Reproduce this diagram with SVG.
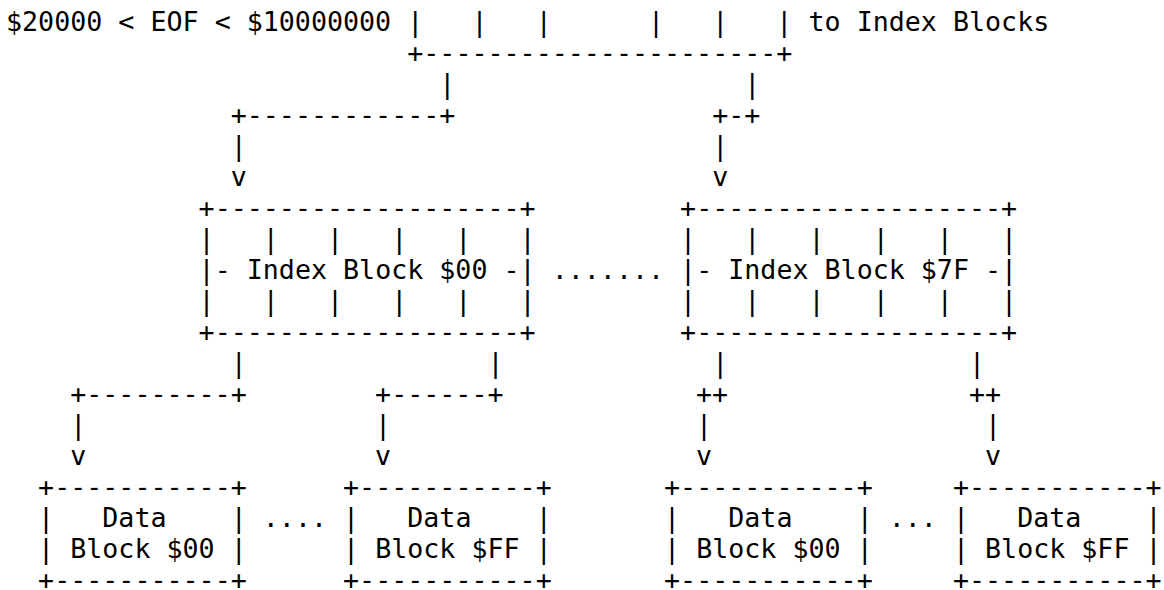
<svg xmlns="http://www.w3.org/2000/svg" width="1164" height="590" viewBox="0 0 1164 590">
<style>
text { font-family: "DejaVu Sans Mono", "Liberation Mono", monospace; font-size: 26.67px; fill: #000; white-space: pre; }
</style>
<rect width="1164" height="590" fill="#fff"/>
<g id="eof-label">
<text x="6" y="31">$20000 &lt; EOF &lt; $10000000</text>
<text x="808.5" y="31">to Index Blocks</text>
</g>
<g id="connectors">
<text x="407.25" y="31">|   |   |      |   |   |</text>
<text x="407.25" y="62">+----------------------+</text>
<text x="439.35" y="93">|                  |</text>
<text x="230.7" y="124">+------------+                +-+</text>
<text x="230.7" y="155">|                             |</text>
<text x="230.7" y="186">v                             v</text>
<text x="230.7" y="372">|               |             |               |</text>
<text x="70.2" y="403">+---------+        +------+            ++               ++</text>
<text x="70.2" y="434">|                  |                   |                 |</text>
<text x="70.2" y="465">v                  v                   v                 v</text>
</g>
<g id="index-block-00">
<text x="198.6" y="217">+-------------------+</text>
<text x="198.6" y="248">|   |   |   |   |   |</text>
<text x="198.6" y="279">|- Index Block $00 -|</text>
<text x="198.6" y="310">|   |   |   |   |   |</text>
<text x="198.6" y="341">+-------------------+</text>
</g>
<g id="index-ellipsis">
<text x="551.7" y="279">.......</text>
</g>
<g id="index-block-7f">
<text x="680.1" y="217">+-------------------+</text>
<text x="680.1" y="248">|   |   |   |   |   |</text>
<text x="680.1" y="279">|- Index Block $7F -|</text>
<text x="680.1" y="310">|   |   |   |   |   |</text>
<text x="680.1" y="341">+-------------------+</text>
</g>
<g id="data-block-00-00">
<text x="38.1" y="496">+-----------+</text>
<text x="38.1" y="527">|   Data    |</text>
<text x="38.1" y="558">| Block $00 |</text>
<text x="38.1" y="589">+-----------+</text>
</g>
<g id="data-ellipsis-1">
<text x="262.8" y="527">....</text>
</g>
<g id="data-block-00-ff">
<text x="343.05" y="496">+-----------+</text>
<text x="343.05" y="527">|   Data    |</text>
<text x="343.05" y="558">| Block $FF |</text>
<text x="343.05" y="589">+-----------+</text>
</g>
<g id="data-block-7f-00">
<text x="664.05" y="496">+-----------+</text>
<text x="664.05" y="527">|   Data    |</text>
<text x="664.05" y="558">| Block $00 |</text>
<text x="664.05" y="589">+-----------+</text>
</g>
<g id="data-ellipsis-2">
<text x="888.75" y="527">...</text>
</g>
<g id="data-block-7f-ff">
<text x="952.95" y="496">+-----------+</text>
<text x="952.95" y="527">|   Data    |</text>
<text x="952.95" y="558">| Block $FF |</text>
<text x="952.95" y="589">+-----------+</text>
</g>
</svg>
